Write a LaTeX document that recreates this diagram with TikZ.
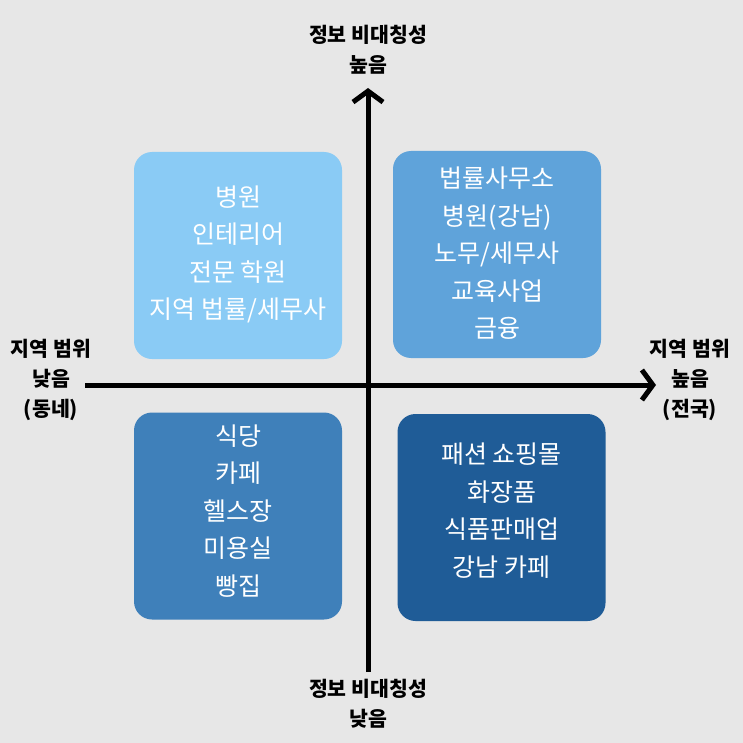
\documentclass[tikz,border=0pt]{standalone}
\usepackage{fontspec}
\setmainfont{Noto Sans CJK KR}
\usetikzlibrary{arrows.meta}
\definecolor{bg}{HTML}{E7E7E7}
\definecolor{qa}{HTML}{8ACBF5}
\definecolor{qb}{HTML}{5FA3DA}
\definecolor{qc}{HTML}{3F80BA}
\definecolor{qd}{HTML}{1F5C97}
\tikzset{
  quad/.style={rounded corners=18pt, minimum width=208pt, minimum height=207pt, inner sep=0pt},
  quadtext/.style={text=white, font=\fontsize{25}{37.5}\selectfont, align=center, inner sep=0pt},
  axlabel/.style={font=\bfseries\fontsize{20.5}{30}\selectfont, align=center, text=black, inner sep=0pt},
  axis/.style={line width=5pt, -{Straight Barb[length=11pt,width=30pt,line width=5pt]}}
}
\begin{document}
\begin{tikzpicture}[x=1pt,y=-1pt]
\fill[bg] (0,0) rectangle (743,743);
\useasboundingbox (0,0) rectangle (743,743);
\node[quad, fill=qa] (tl) at (238,255.5) {};
\node[quad, fill=qb] (tr) at (497,254.5) {};
\node[quad, fill=qc] (bl) at (238,516) {};
\node[quad, fill=qd] (br) at (501.5,517.5) {};
\node[quadtext] (tlt) at (238,254.5) {병원\\인테리어\\전문 학원\\지역 법률/세무사};
\node[quadtext] (trt) at (497,253.5) {법률사무소\\병원(강남)\\노무/세무사\\교육사업\\금융};
\node[quadtext] (blt) at (238,511) {식당\\카페\\헬스장\\미용실\\빵집};
\node[quadtext] (brt) at (501.5,510.5) {패션 쇼핑몰\\화장품\\식품판매업\\강남 카페};
\coordinate (vbot) at (368,672);
\coordinate (vtop) at (368,88);
\coordinate (hl) at (85,385);
\coordinate (hr) at (656,385);
\draw[axis] (vbot) -- (vtop);
\draw[axis] (hl) -- (hr);
\node[axlabel] (ltop) at (368,50) {정보 비대칭성\\높음};
\node[axlabel] (lbot) at (368,704) {정보 비대칭성\\낮음};
\node[axlabel] (lleft) at (51,380) {지역 범위\\낮음\\(동네)};
\node[axlabel] (lright) at (690,380) {지역 범위\\높음\\(전국)};
\end{tikzpicture}
\end{document}
